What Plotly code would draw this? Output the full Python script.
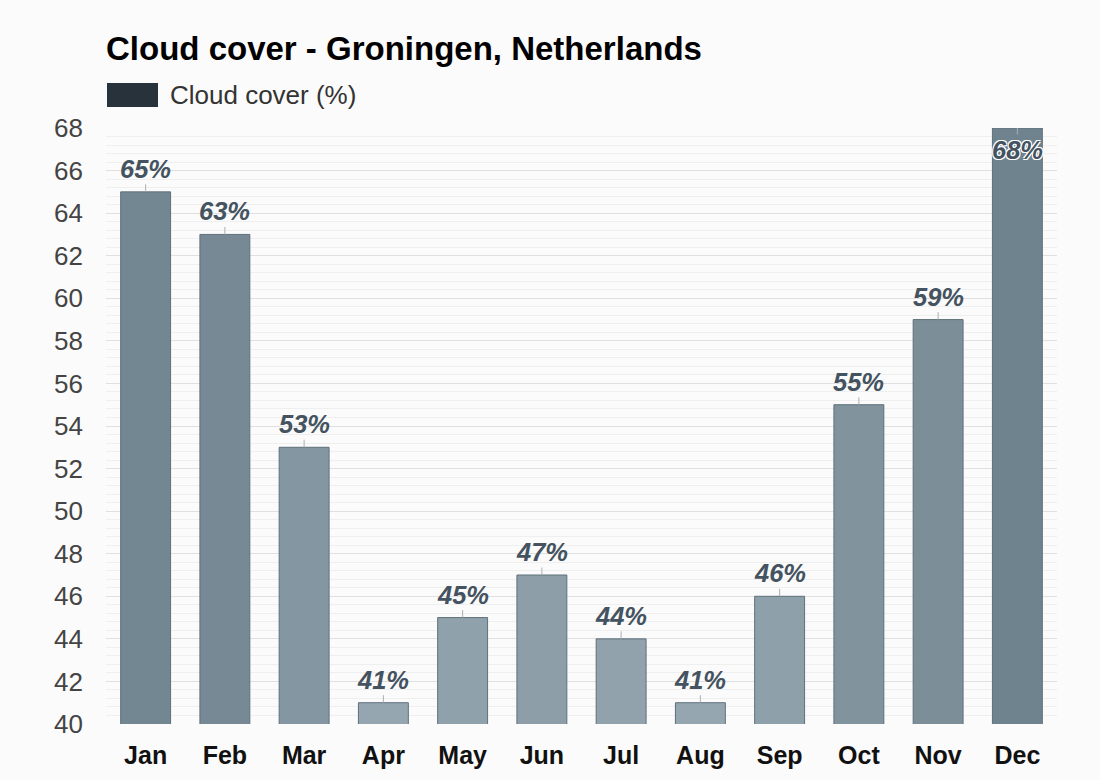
import plotly.graph_objects as go

months = ["Jan", "Feb", "Mar", "Apr", "May", "Jun", "Jul", "Aug", "Sep", "Oct", "Nov", "Dec"]
cloud_cover = [65, 63, 53, 41, 45, 47, 44, 41, 46, 55, 59, 68]
y_ticks = list(range(40, 70, 2))

# colour of each bar: darker for cloudier months
lo_rgb = (149, 166, 176)
hi_rgb = (111, 131, 142)
vmin, vmax = 41, 68


def shade(v):
    t = (v - vmin) / (vmax - vmin)
    r, g, b = (round(lo_rgb[i] + (hi_rgb[i] - lo_rgb[i]) * t) for i in range(3))
    return f"rgb({r},{g},{b})"


bar_colors = [shade(v) for v in cloud_cover]

# plot area in pixels (for placing the hand-drawn legend)
L, R, T, B = 106, 1057, 128, 724
PW, PH = R - L, B - T


def px_x(x):
    return (x - L) / PW


def px_y(y):
    return (B - y) / PH


fig = go.Figure()
fig.add_trace(go.Bar(
    x=months,
    y=cloud_cover,
    marker=dict(color=bar_colors, line=dict(color="#5f707a", width=1)),
    name="Cloud cover (%)",
    showlegend=False,
    hoverinfo="x+y",
))

annotations = []
for m, v in zip(months, cloud_cover):
    inside = v >= 68
    annotations.append(dict(
        x=m, y=v, xref="x", yref="y",
        text=f"{v}%",
        showarrow=True, arrowhead=0, arrowwidth=1, arrowcolor="#a9b1b6",
        ax=0, ay=22 if inside else -23,
        font=dict(family="Liberation Sans, Arial, sans-serif", size=25.5,
                  color="#44535f", weight="bold", style="italic",
                  shadow="-1px -1px 0 #fff, 1px -1px 0 #fff, -1px 1px 0 #fff, 1px 1px 0 #fff" if inside else "none"),
    ))

# legend drawn manually (swatch + label)
annotations.append(dict(
    x=px_x(168), y=px_y(95), xref="paper", yref="paper",
    text="Cloud cover (%)", showarrow=False, xanchor="left", yanchor="middle",
    font=dict(family="Liberation Sans, Arial, sans-serif", size=26, color="#333333"),
))

fig.update_layout(
    width=1100, height=780,
    margin=dict(l=L, r=1100 - R, t=T, b=780 - B),
    paper_bgcolor="#fbfbfb",
    plot_bgcolor="#fbfbfb",
    bargap=0.37,
    title=dict(
        text="<b>Cloud cover - Groningen, Netherlands</b>",
        x=106 / 1100, xanchor="left", xref="container",
        y=1 - 48 / 780, yanchor="middle", yref="container",
        font=dict(family="Liberation Sans, Arial, sans-serif", size=33, color="#000000"),
    ),
    annotations=annotations,
    shapes=[dict(
        type="rect", xref="paper", yref="paper",
        x0=px_x(107), x1=px_x(158),
        y0=px_y(107), y1=px_y(83),
        fillcolor="#28323b", line=dict(width=0),
    )],
    xaxis=dict(
        showgrid=False, zeroline=False, showline=False,
        tickfont=dict(family="Liberation Sans, Arial, sans-serif", size=25, color="#111111", weight="bold"),
        ticklabelstandoff=14,
    ),
    yaxis=dict(
        range=[40, 68], tickvals=y_ticks, ticktext=[str(t) for t in y_ticks],
        showgrid=True, gridcolor="#e0e0e0", gridwidth=1,
        zeroline=False, showline=False,
        minor=dict(dtick=0.4, showgrid=True, gridcolor="#efefef", gridwidth=1),
        tickfont=dict(family="Liberation Sans, Arial, sans-serif", size=26, color="#444444"),
        ticklabelstandoff=22,
    ),
    font=dict(family="Liberation Sans, Arial, sans-serif"),
)

fig.write_html("out.html")
